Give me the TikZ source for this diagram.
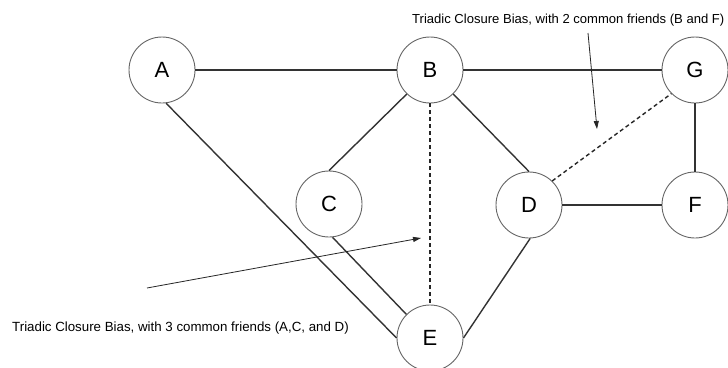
\documentclass[tikz,border=0pt]{standalone}
\usepackage{fontspec}
\setmainfont{Liberation Sans}
\usetikzlibrary{arrows.meta}
\begin{document}
\begin{tikzpicture}[x=1pt,y=-1pt,
  person/.style={circle,draw=black!60,line width=0.9pt,fill=white,minimum size=66pt,inner sep=0pt,
    font=\fontsize{22}{24}\selectfont},
  tie/.style={draw=black!80,line width=1.4pt},
  closure/.style={draw=black!85,line width=1.4pt,dash pattern=on 4pt off 3pt},
  pointer/.style={draw=black!85,line width=0.8pt,-{Triangle[length=8pt,width=5pt]}},
  note/.style={font=\fontsize{13.3}{15}\selectfont,inner sep=0pt,anchor=west}]
\useasboundingbox (0,0) rectangle (728,367);
\fill[white] (0,0) rectangle (728,367);

% people
\node[person] (A) at (162,70) {A};
\node[person] (B) at (430,70) {B};
\node[person] (G) at (695,70) {G};
\node[person] (C) at (329,204) {C};
\node[person] (D) at (529,205) {D};
\node[person] (F) at (695,205) {F};
\node[person] (E) at (430,338) {E};

% friendships
\draw[tie] (A.east) -- (B.west);
\draw[tie] (B.east) -- (G.west);
\draw[tie] (G.south) -- (F.north);
\draw[tie] (D.east) -- (F.west);
\draw[tie] (B.-134) -- (C.north);
\draw[tie] (B.-46) -- (D.north);
\draw[tie] (D.-88) -- (E.east);
\draw[tie] (A.-83) -- (E.west);
\draw[tie] (C.-84) -- (E.135);

% predicted ties
\draw[closure] (B.south) -- (E.north);
\draw[closure] (D.46) -- (G.225);

% annotations
\node[note,font=\fontsize{13.05}{15}\selectfont] (t1) at (412,20) {Triadic Closure Bias, with 2 common friends (B and F)};
\node[note] (t2) at (12,328) {Triadic Closure Bias, with 3 common friends (A,C, and D)};
\coordinate (p1) at (588,33);
\coordinate (q1) at (597,129);
\coordinate (p2) at (147,288);
\coordinate (q2) at (421,238);
\draw[pointer] (p1) -- (q1);
\draw[pointer] (p2) -- (q2);
\end{tikzpicture}
\end{document}
